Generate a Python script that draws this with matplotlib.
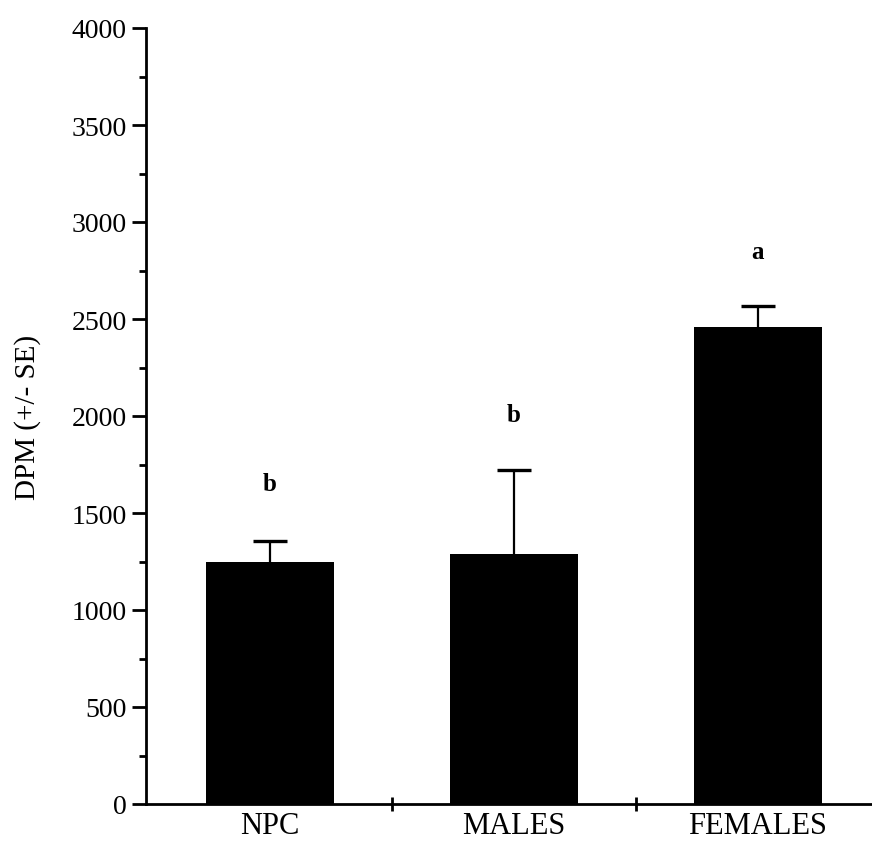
import matplotlib.pyplot as plt
from matplotlib.ticker import MultipleLocator, FixedLocator, NullFormatter

# data
groups = ['NPC', 'MALES', 'FEMALES']
dpm = [1245, 1290, 2460]
se = [110, 430, 105]
letters = ['b', 'b', 'a']
letter_y = [1650, 2010, 2850]

plt.rcParams['font.family'] = ['Liberation Serif', 'DejaVu Serif']

fig = plt.figure(figsize=(8.72, 8.45), dpi=100)
ax = fig.add_axes([146 / 872, 40 / 845, 1 - 146 / 872, 776 / 845])

x = list(range(len(groups)))
ax.bar(x, dpm, width=0.524, color='black', zorder=2)
# upper error only: stem plus a cap on top
ax.errorbar(x, dpm, yerr=[[0] * len(se), se], fmt='none', ecolor='black',
            elinewidth=1.6, capsize=0, zorder=1)
tops = [d + s for d, s in zip(dpm, se)]
ax.plot(x, tops, ls='none', marker='_', ms=24, mew=2.4, color='black', zorder=1)

for xi, lt, ly in zip(x, letters, letter_y):
    ax.text(xi, ly, lt, ha='center', va='center', fontsize=18, fontweight='bold')

ax.set_xlim(-0.506, 2.467)
ax.set_ylim(0, 4000)

ax.spines['top'].set_visible(False)
ax.spines['right'].set_visible(False)
ax.spines['left'].set_linewidth(2)
ax.spines['bottom'].set_linewidth(2)

ax.yaxis.set_major_locator(MultipleLocator(500))
ax.yaxis.set_minor_locator(MultipleLocator(250))
ax.tick_params(axis='y', which='major', direction='out', length=10, width=2,
               labelsize=20, pad=4)
ax.tick_params(axis='y', which='minor', direction='out', length=5, width=2)

# category labels at bar centres, crossing ticks between the bars
ax.xaxis.set_major_locator(FixedLocator(x))
ax.set_xticklabels(groups)
ax.xaxis.set_minor_locator(FixedLocator([0.5, 1.5]))
ax.xaxis.set_minor_formatter(NullFormatter())
ax.tick_params(axis='x', which='major', length=0, labelsize=22, pad=5)
ax.tick_params(axis='x', which='minor', direction='inout', length=10, width=2)

ax.set_ylabel('DPM (+/- SE)', fontsize=21, labelpad=22)

fig.savefig('out.png', dpi=100)
